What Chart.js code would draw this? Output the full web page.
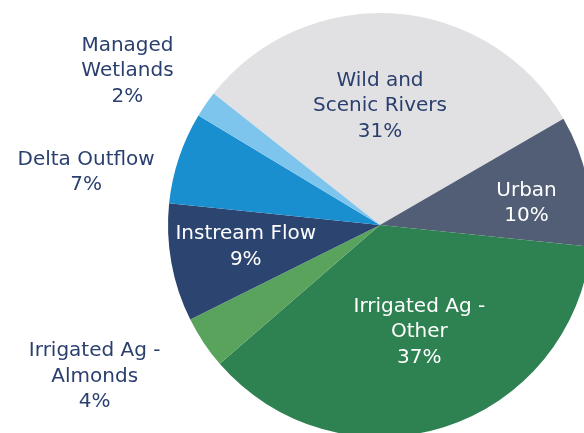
<!DOCTYPE html>
<html><head><meta charset="utf-8">
<script src="https://cdn.jsdelivr.net/npm/chart.js@4/dist/chart.umd.min.js"></script>
<style>
html,body{margin:0;padding:0;background:#fff;overflow:hidden;width:584px;height:433px;}
#wrap{position:absolute;left:0;top:0;width:600px;height:450px;}
</style></head>
<body>
<div id="wrap"><canvas id="c" width="600" height="450"></canvas></div>
<script>
const categories = ["Wild and Scenic Rivers","Urban","Irrigated Ag - Other","Irrigated Ag - Almonds","Instream Flow","Delta Outflow","Managed Wetlands"];
const labelLines = [["Wild and","Scenic Rivers","31%"],["Urban","10%"],["Irrigated Ag -","Other","37%"],["Irrigated Ag -","Almonds","4%"],["Instream Flow","9%"],["Delta Outflow","7%"],["Managed","Wetlands","2%"]];
const shares = [31,10,37,4,9,7,2];
const colors = ["#e1e1e3","#525e75","#2e8150","#5aa35c","#2c4470","#1a8fd0","#7ec5ee"];
const textColors = ["#2a3f6e","#ffffff","#ffffff","#2a3f6e","#ffffff","#2a3f6e","#2a3f6e"];
// label placement: [angle offset (deg) from slice middle, radius factor]
const labelPlace = [[-4.1,0.57],[3,0.70],[-3,0.53],[6,1.52],[2,0.64],[-8,1.41],[-3,1.40]];

const labelPlugin = {
  id:'sliceLabels',
  afterDatasetsDraw(chart){
    const ctx = chart.ctx;
    const meta = chart.getDatasetMeta(0);
    ctx.save();
    ctx.font = '20px "DejaVu Sans"';
    ctx.textAlign='center';
    ctx.textBaseline='middle';
    meta.data.forEach((arc,i)=>{
      const p = arc.getProps(['x','y','startAngle','endAngle','outerRadius'],true);
      const a = (p.startAngle+p.endAngle)/2 + labelPlace[i][0]*Math.PI/180;
      const r = p.outerRadius*labelPlace[i][1];
      const cx = p.x + Math.cos(a)*r, cy = p.y + Math.sin(a)*r + 2;
      const lines = labelLines[i];
      const lh = 25.5;
      ctx.fillStyle = textColors[i];
      lines.forEach((t,k)=>{
        ctx.fillText(t, cx, cy + (k-(lines.length-1)/2)*lh);
      });
    });
    ctx.restore();
  }
};

new Chart(document.getElementById('c'),{
  type:'pie',
  data:{labels:categories,datasets:[{data:shares,backgroundColor:colors,borderColor:colors,borderWidth:0}]},
  options:{
    responsive:false,animation:false,
    rotation:-51.7,
    layout:{padding:{left:168,top:13,right:8,bottom:13}},
    plugins:{legend:{display:false},tooltip:{enabled:false}}
  },
  plugins:[labelPlugin]
});
</script>
</body></html>
